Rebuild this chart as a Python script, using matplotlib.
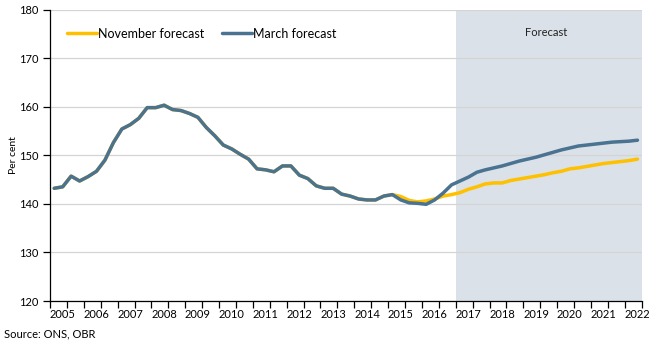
import matplotlib
matplotlib.use("Agg")
import matplotlib.pyplot as plt
import numpy as np

plt.rcParams['font.family'] = ['Lato', 'DejaVu Sans']

# Quarterly series, 2004Q4 to 2022Q1
years = [str(y) for y in range(2005, 2023)]
forecast_start = 48  # first forecast quarter (2016Q4)

march = [
    143.2, 143.5, 145.7, 144.7, 145.6, 146.7, 149.0, 152.6, 155.4, 156.3,
    157.6, 159.8, 159.8, 160.3, 159.4, 159.2, 158.6, 157.8, 155.7, 154.0,
    152.1, 151.3, 150.2, 149.2, 147.2, 147.0, 146.6, 147.8, 147.8, 145.9,
    145.2, 143.7, 143.2, 143.2, 142.0, 141.6, 141.0, 140.8, 140.8, 141.6,
    141.9, 140.8, 140.2, 140.1, 139.9, 140.8, 142.2, 143.9, 144.7, 145.5,
    146.5, 147.0, 147.4, 147.8, 148.3, 148.8, 149.2, 149.6, 150.1, 150.6,
    151.1, 151.5, 151.9, 152.1, 152.3, 152.5, 152.7, 152.8, 152.9, 153.1,
]
november = march[:41] + [
    141.5, 140.7, 140.4, 140.6, 141.0, 141.6, 141.9, 142.3, 143.0,
    143.5, 144.1, 144.3, 144.3, 144.8, 145.1, 145.4, 145.7, 146.0, 146.4,
    146.7, 147.2, 147.4, 147.7, 148.0, 148.3, 148.5, 148.7, 148.9, 149.2,
]

BLUE = '#4a7291'
GOLD = '#ffc000'
SHADE = '#dae1e8'
GRID = '#d4d4d4'
FS = 8

fig = plt.figure(figsize=(6.55, 3.43), dpi=100)
W, H = 655, 343
ax = fig.add_axes([50 / W, (H - 301) / H, (641.7 - 50) / W, (301 - 9.5) / H])

x = np.arange(len(march))
n = len(march)

ax.axvspan(forecast_start - 0.5, n - 0.5, color=SHADE, lw=0, zorder=0)
ax.plot(x, november, color=GOLD, lw=2.5, zorder=3, label='November forecast',
        solid_capstyle='round', solid_joinstyle='round')
ax.plot(x, march, color=BLUE, lw=2.5, zorder=4, label='March forecast',
        solid_capstyle='round', solid_joinstyle='round')

ax.set_xlim(-0.5, n - 0.5)
ax.set_ylim(120, 180)
ax.set_yticks(np.arange(120, 181, 10))
ax.yaxis.grid(True, color=GRID, lw=0.9, zorder=1)
ax.set_axisbelow(True)

# Tick marks every half-year, year labels under each Q1
ax.set_xticks(np.arange(-0.5, n, 2))
ax.set_xticklabels([])
ax.set_xticks(np.arange(1, n, 4), minor=True)
ax.set_xticklabels(years, minor=True)
ax.tick_params(axis='x', which='major', direction='out', length=5, width=0.9, color='black')
ax.tick_params(axis='x', which='minor', length=0, pad=6, labelsize=FS, labelcolor='black')
ax.tick_params(axis='y', direction='out', length=5, width=0.9, labelsize=FS, pad=3)

for side in ('top', 'right'):
    ax.spines[side].set_visible(False)
for side in ('left', 'bottom'):
    ax.spines[side].set_color('black')
    ax.spines[side].set_linewidth(0.9)

ax.set_ylabel('Per cent', fontsize=FS - 0.5, labelpad=1)

ax.legend(loc='upper left', bbox_to_anchor=(0.02, 0.955), ncol=2, frameon=False,
          fontsize=9, handlelength=2.4, handletextpad=0.1, columnspacing=1.4,
          borderaxespad=0)

ax.text(forecast_start + (n - forecast_start) / 2 - 0.8, 175.2, 'Forecast',
        fontsize=FS, ha='center', va='center', color='#222222')

fig.text(4 / W, 1 - 334 / H, 'Source: ONS, OBR', fontsize=FS, ha='left', va='center')

fig.savefig('out.png', dpi=100)
